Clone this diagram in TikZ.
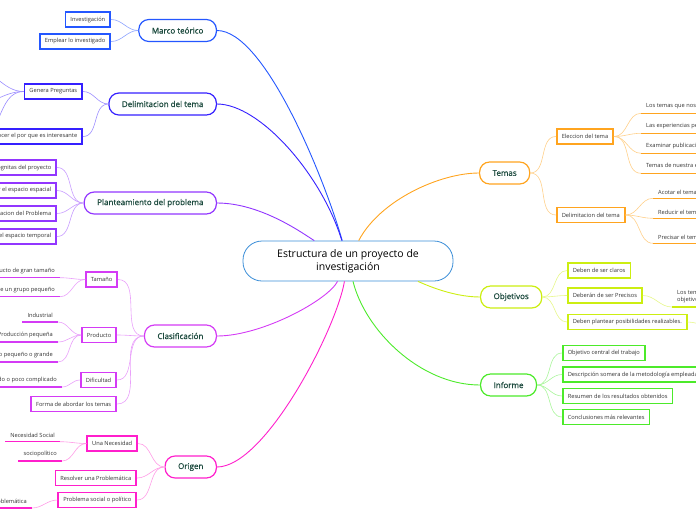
\documentclass[tikz,border=0pt]{standalone}
\usepackage{fontspec}
\setmainfont{Open Sans}
\newfontfamily\topicfont{Open Sans}[RawFeature={embolden=0.7}]
\usepackage{tikz}
\definecolor{cmain}{HTML}{3B8ED8}
\definecolor{cmarco}{HTML}{2457FF}\definecolor{lmarco}{HTML}{8EA4FF}
\definecolor{cdelim}{HTML}{3520FF}\definecolor{ldelim}{HTML}{9B8CFF}
\definecolor{cplan}{HTML}{9236FF}\definecolor{lplan}{HTML}{C79BFF}
\definecolor{cclas}{HTML}{D43BF5}\definecolor{lclas}{HTML}{E9A0FA}
\definecolor{corig}{HTML}{FF1FCC}\definecolor{lorig}{HTML}{FF9BE6}
\definecolor{ctemas}{HTML}{FFA41F}\definecolor{ltemas}{HTML}{FFD08A}
\definecolor{cobj}{HTML}{CCEE11}\definecolor{lobj}{HTML}{E6F78A}
\definecolor{cinf}{HTML}{4CEA2A}\definecolor{linf}{HTML}{A8F59A}
\definecolor{ctext}{HTML}{1C4A3E}
\definecolor{cleaf}{HTML}{333333}
\tikzset{main/.style = {draw=cmain, line width=.8pt, fill=white, rounded corners=19pt,
    minimum width=210pt, minimum height=40pt, align=center, font=\fontsize{10.5}{13}\selectfont},
  topic/.style = {draw=#1, line width=1.2pt, fill=white, rounded corners=10pt,
    minimum height=22pt, inner xsep=13pt, text=ctext, font=\topicfont\fontsize{8}{9}\selectfont},
  sub/.style = {draw=#1, line width=1.6pt, fill=white, minimum height=15pt,
    inner xsep=5pt, inner ysep=0pt, text=cleaf, font=\fontsize{5.7}{6.8}\selectfont},
  leaf/.style = {inner xsep=5pt, inner ysep=4pt, text=cleaf, font=\fontsize{5.7}{6.8}\selectfont,
    append after command={(\tikzlastnode.south west) edge[draw=#1, line width=1.5pt] (\tikzlastnode.south east)}},
  trunk/.style = {draw=#1, line width=.9pt},
  left link/.style = {draw=#1, line width=.6pt, out=180, in=0},
  right link/.style = {draw=#1, line width=.6pt, out=0, in=180}}

\begin{document}
\begin{tikzpicture}[x=1pt, y=-1pt]
  \useasboundingbox (0,0) rectangle (696,520);
  \clip (0,0) rectangle (696,520);
  \node[main] (root) at (348,261) {Estructura de un proyecto de\\investigación};
  % left side
  \node[topic=cmarco, anchor=east] (marco) at (217,30.5) {Marco teórico};
  \node[topic=cdelim, anchor=east] (delim) at (217,104) {Delimitacion del tema};
  \node[topic=cplan, anchor=east] (plan) at (217,203) {Planteamiento del problema};
  \node[topic=cclas, anchor=east] (clas) at (217,336) {Clasificación};
  \node[topic=corig, anchor=east] (orig) at (217,467) {Origen};
  \node[sub=cmarco, anchor=east] (invest) at (111,19.5) {Investigación};
  \node[sub=cmarco, anchor=east] (emplear) at (111,41.5) {Emplear lo investigado};
  \node[sub=cdelim, anchor=east] (preg) at (83,91.5) {Genera Preguntas};
  \node[sub=cdelim, anchor=east] (porque) at (83,136.5) {Conocer el por que es interesante};
  \coordinate (preg1) at (-25,70);
  \coordinate (preg2) at (-25,104);
  \coordinate (preg3) at (-25,142);
  \node[sub=cplan, anchor=east] (incog) at (57,167.5) {Incógnitas del proyecto};
  \node[sub=cplan, anchor=east] (espac) at (57,190.5) {Delimitar el espacio espacial};
  \node[sub=cplan, anchor=east] (formu) at (57,213.5) {Formulacion del Problema};
  \node[sub=cplan, anchor=east] (tempo) at (57,236.5) {Delimitar el espacio temporal};
  \node[sub=cclas, anchor=east] (tamano) at (118,279.5) {Tamaño};
  \node[sub=cclas, anchor=east] (prod) at (117,335) {Producto};
  \node[sub=cclas, anchor=east] (dific) at (117,380) {Dificultad};
  \node[sub=cclas, anchor=east] (forma) at (117,404) {Forma de abordar los temas};
  \node[leaf=cclas, anchor=south east] (gran) at (60,277.7) {Producto de gran tamaño};
  \node[leaf=cclas, anchor=south east] (grupo) at (60,296.7) {Investigación de un grupo pequeño};
  \node[leaf=cclas, anchor=south east] (indus) at (58,322) {Industrial};
  \node[leaf=cclas, anchor=south east] (pequena) at (58,342) {Producción pequeña};
  \node[leaf=cclas, anchor=south east] (grande) at (58,362) {Producto pequeño o grande};
  \node[leaf=cclas, anchor=south east] (compl) at (62,387) {Complicado o poco complicado};
  \node[sub=corig, anchor=east] (neces) at (138,443.5) {Una Necesidad};
  \node[sub=corig, anchor=east] (resol) at (137,478) {Resolver una Problemática};
  \node[sub=corig, anchor=east] (probl) at (137,500) {Problema social o político};
  \node[leaf=corig, anchor=south east] (social) at (60,441.7) {Necesidad Social};
  \node[leaf=corig, anchor=south east] (socio) at (62,461) {sociopolítico};
  \node[leaf=corig, anchor=south east] (probm) at (32,508) {Problemática};
  % right side
  \node[topic=ctemas, anchor=west] (temas) at (479,173) {Temas};
  \node[topic=cobj, anchor=west] (obj) at (480,297) {Objetivos};
  \node[topic=cinf, anchor=west] (inf) at (480,385) {Informe};
  \node[sub=ctemas, anchor=west] (elec) at (556,136.5) {Eleccion del tema};
  \node[sub=ctemas, anchor=west] (delimb) at (556,215) {Delimitacion del tema};
  \node[leaf=ctemas, anchor=south west] (nos) at (641,113.3) {Los temas que nos interesan};
  \node[leaf=ctemas, anchor=south west] (exper) at (641,133.3) {Las experiencias personales};
  \node[leaf=ctemas, anchor=south west] (publi) at (641,153.3) {Examinar publicaciones};
  \node[leaf=ctemas, anchor=south west] (espec) at (641,173.3) {Temas de nuestra especialidad};
  \node[leaf=ctemas, anchor=south west] (acotar) at (653,198.3) {Acotar el tema};
  \node[leaf=ctemas, anchor=south west] (reduc) at (653,218.3) {Reducir el tema};
  \node[leaf=ctemas, anchor=south west] (preci) at (653,243.3) {Precisar el tema};
  \node[sub=cobj, anchor=west] (claros) at (567,270.5) {Deben de ser claros};
  \node[sub=cobj, anchor=west] (precis) at (567,295.5) {Deberán de ser Precisos};
  \node[sub=cobj, anchor=west] (realiz) at (567,322) {Deben plantear posibilidades realizables.};
  \node[leaf=cobj, anchor=south west, align=left] (objet) at (672,307) {Los temas deben ser\\objetivos};
  \coordinate (realiz1) at (720,330);
  \node[sub=cinf, anchor=west] (centr) at (562,353) {Objetivo central del trabajo};
  \node[sub=cinf, anchor=west] (descr) at (562,374.5) {Descripción somera de la metodología empleada};
  \node[sub=cinf, anchor=west] (resum) at (562,396) {Resumen de los resultados obtenidos};
  \node[sub=cinf, anchor=west] (concl) at (562,417) {Conclusiones más relevantes};
  % trunks
  \draw[trunk=cmarco] (root) .. controls (325,180) and (265,30.5) .. (marco.east);
  \draw[trunk=cdelim] (root) .. controls (322,175) and (260,104) .. (delim.east);
  \draw[trunk=cplan] (root) .. controls (305,235) and (262,203) .. (plan.east);
  \draw[trunk=cclas] (root) .. controls (328,300) and (262,336) .. (clas.east);
  \draw[trunk=corig] (root) .. controls (336,330) and (265,467) .. (orig.east);
  \draw[trunk=ctemas] (root) .. controls (380,200) and (440,173) .. (temas.west);
  \draw[trunk=cobj] (root) .. controls (420,282) and (450,297) .. (obj.west);
  \draw[trunk=cinf] (root) .. controls (365,330) and (420,385) .. (inf.west);
  % branches
  \path (marco.west) edge[left link=lmarco] (invest.east) edge[left link=lmarco] (emplear.east);
  \path (delim.west) edge[left link=ldelim] (preg.east) edge[left link=ldelim] (porque.east);
  \path (preg.west) edge[left link=ldelim] (preg1) edge[left link=ldelim] (preg2)
    edge[left link=ldelim] (preg3);
  \path (plan.west) edge[left link=lplan] (incog.east) edge[left link=lplan] (espac.east)
    edge[left link=lplan] (formu.east) edge[left link=lplan] (tempo.east);
  \path (clas.west) edge[left link=lclas] (tamano.east) edge[left link=lclas] (prod.east)
    edge[left link=lclas] (dific.east) edge[left link=lclas] (forma.east);
  \path (tamano.west) edge[left link=lclas] (gran.south east) edge[left link=lclas] (grupo.south east);
  \path (prod.west) edge[left link=lclas] (indus.south east) edge[left link=lclas] (pequena.south east)
    edge[left link=lclas] (grande.south east);
  \path (dific.west) edge[left link=lclas] (compl.south east);
  \path (orig.west) edge[left link=lorig] (neces.east) edge[left link=lorig] (resol.east)
    edge[left link=lorig] (probl.east);
  \path (neces.west) edge[left link=lorig] (social.south east) edge[left link=lorig] (socio.south east);
  \path (probl.west) edge[left link=lorig] (probm.south east);
  \path (temas.east) edge[right link=ltemas] (elec.west) edge[right link=ltemas] (delimb.west);
  \path (elec.east) edge[right link=ltemas] (nos.south west) edge[right link=ltemas] (exper.south west)
    edge[right link=ltemas] (publi.south west) edge[right link=ltemas] (espec.south west);
  \path (delimb.east) edge[right link=ltemas] (acotar.south west) edge[right link=ltemas] (reduc.south west)
    edge[right link=ltemas] (preci.south west);
  \path (obj.east) edge[right link=lobj] (claros.west) edge[right link=lobj] (precis.west)
    edge[right link=lobj] (realiz.west);
  \path (precis.east) edge[right link=lobj] (objet.south west);
  \path (realiz.east) edge[right link=lobj] (realiz1);
  \path (inf.east) edge[right link=linf] (centr.west) edge[right link=linf] (descr.west)
    edge[right link=linf] (resum.west) edge[right link=linf] (concl.west);
\end{tikzpicture}
\end{document}
